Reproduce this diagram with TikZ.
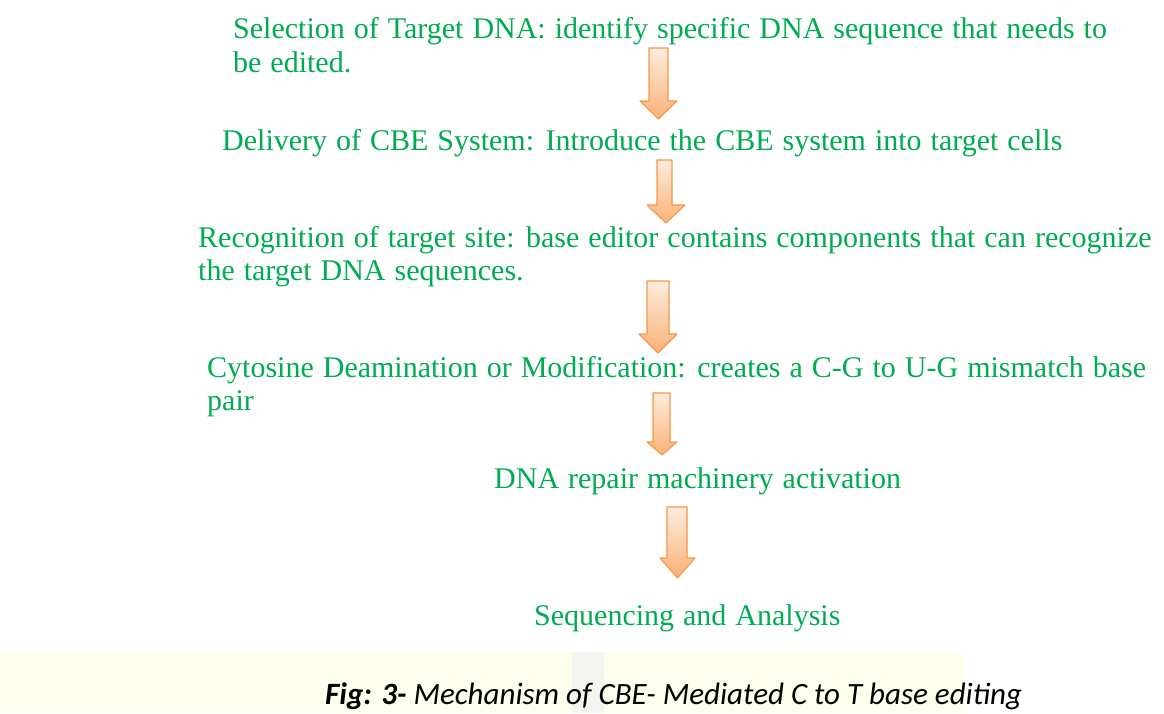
\documentclass[tikz,border=0pt]{standalone}
\usepackage{fontspec}
\setmainfont{Liberation Serif}[WordSpace=1.2]
\newfontfamily\capfont{Carlito}
\usepackage{tikz}
\usetikzlibrary{calc}

\definecolor{stepgreen}{RGB}{0,172,82}
\definecolor{arrowline}{RGB}{247,150,70}
\definecolor{arrowtop}{RGB}{253,236,222}
\definecolor{arrowbot}{RGB}{249,178,118}
\definecolor{markband}{RGB}{255,255,238}
\definecolor{markbar}{RGB}{244,244,240}

% block arrow: shaft left, shaft right, top, head base, head left, head right, tip
\newcommand{\flowarrow}[7]{%
  \draw[arrowline,line width=1.1pt,line join=round,top color=arrowtop,bottom color=arrowbot]
    (#1,#3) -- (#2,#3) -- (#2,#4) -- (#6,#4) -- ({(#5+#6)/2},#7) -- (#5,#4) -- (#1,#4) -- cycle;
}

\begin{document}
\begin{tikzpicture}[x=1pt,y=-1pt,
  steptext/.style={anchor=base west,inner sep=0pt,text=stepgreen,font=\fontsize{30}{34}\selectfont},
  captext/.style={anchor=base west,inner sep=0pt,font=\capfont\itshape\fontsize{31}{34}\selectfont}]
  \useasboundingbox (0,0) rectangle (1164,713);

  % faint page mark behind the caption
  \fill[markband] (0,652) rectangle (965,713);
  \fill[markbar] (572,652) rectangle (604,713);

  \node[steptext] (select)  at (233,38)  {Selection of Target DNA: identify specific DNA sequence that needs to};
  \node[steptext] (selectb) at (233,72)  {be edited.};
  \node[steptext] (deliver) at (222,150) {Delivery of CBE System: Introduce the CBE system into target cells};
  \node[steptext] (recog)   at (198,247) {Recognition of target site: base editor contains components that can recognize};
  \node[steptext] (recogb)  at (198,280) {the target DNA sequences.};
  \node[steptext] (deamin)  at (207,377) {Cytosine Deamination or Modification: creates a C-G to U-G mismatch base};
  \node[steptext] (deaminb) at (207,410) {pair};
  \node[steptext] (repair)  at (494,488) {DNA repair machinery activation};
  \node[steptext] (seq)     at (534,625) {Sequencing and Analysis};

  \flowarrow{649}{668}{48}{101}{640}{677}{119}
  \flowarrow{657}{672}{160}{205}{647}{685}{223}
  \flowarrow{647}{669}{281}{334}{639}{677}{353}
  \flowarrow{653}{670}{393}{442}{647}{677}{455}
  \flowarrow{667}{687}{507}{558}{660}{695}{578}

  \node[captext] (caption) at (325,704) {\textbf{Fig: 3-} Mechanism of CBE- Mediated C to T base editing};
\end{tikzpicture}
\end{document}
